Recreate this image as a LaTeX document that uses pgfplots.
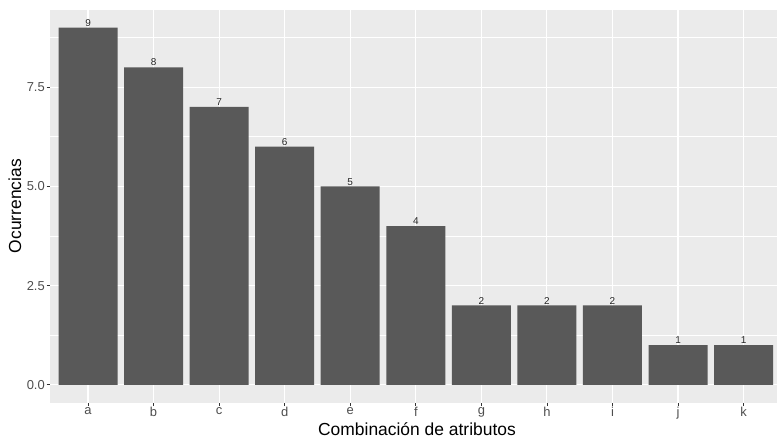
\documentclass[border=0pt]{standalone}
\usepackage{pgfplots}
\pgfplotsset{compat=1.18}
\usepackage{fontspec}
\setmainfont{Liberation Sans}
\definecolor{panel}{HTML}{EBEBEB}
\definecolor{barfill}{HTML}{595959}
\definecolor{ticktext}{HTML}{4D4D4D}
\definecolor{tickc}{HTML}{333333}
\begin{document}
\begin{tikzpicture}[x=1bp,y=1bp]
\useasboundingbox (-50,-35.3) rectangle (727,402.7);
\begin{axis}[
  at={(0,0)}, anchor=south west,
  scale only axis, width=727bp, height=393bp,
  /pgf/number format/assume math mode=true,
  xmin=-0.58, xmax=10.51, ymin=-0.45, ymax=9.45,
  axis background/.style={fill=panel},
  axis line style={draw=none},
  xtick={0,1,2,3,4,5,6,7,8,9,10},
  xticklabels={a,b,c,d,e,f,g,h,i,j,k},
  ytick={0,2.5,5,7.5}, yticklabels={0.0,2.5,5.0,7.5},
  minor ytick={1.25,3.75,6.25,8.75},
  xtick pos=bottom, ytick pos=left,
  grid=both,
  major grid style={white, line width=1.1bp},
  minor grid style={white, line width=0.55bp},
  tick align=outside,
  major tick style={tickc, line width=0.8bp},
  major tick length=3.5bp, minor tick length=0pt,
  ticklabel style={font=\fontsize{13}{13}\selectfont, text=ticktext},
  xticklabel style={inner sep=1bp},
  yticklabel style={inner sep=1.5bp},
  xlabel={Combinación de atributos}, ylabel={Ocurrencias},
  every axis x label/.style={at={(rel axis cs:0.5,0)}, xshift=3.5bp, yshift=-33bp, anchor=base, font=\fontsize{17.5}{17.5}\selectfont},
  every axis y label/.style={at={(rel axis cs:0,0.5)}, xshift=-35bp, rotate=90, anchor=center, font=\fontsize{17.5}{17.5}\selectfont},
]
\addplot[ybar, bar width=0.9, fill=barfill, draw=none,
  nodes near coords,
  every node near coord/.style={font=\fontsize{10}{10}\selectfont, text=black!85, anchor=south, inner sep=1bp}]
  coordinates {(0,9) (1,8) (2,7) (3,6) (4,5) (5,4) (6,2) (7,2) (8,2) (9,1) (10,1)};
\end{axis}
\end{tikzpicture}
\end{document}
